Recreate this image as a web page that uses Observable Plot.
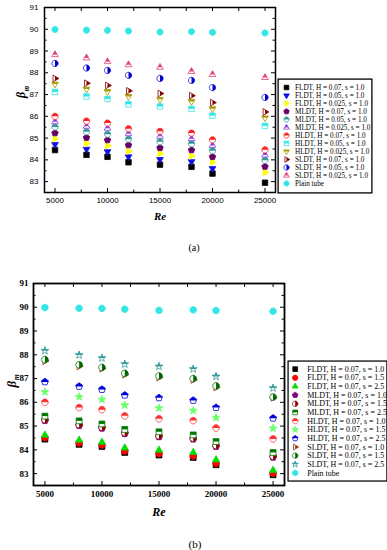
<!DOCTYPE html>
<html><head><meta charset="utf-8">
<script src="https://cdn.jsdelivr.net/npm/d3@7"></script>
<script src="https://cdn.jsdelivr.net/npm/@observablehq/plot@0.6"></script>
<style>
html,body{margin:0;padding:0;background:#fff}
body{width:387px;height:550px;overflow:hidden;position:relative}
.abs{position:absolute}
.abs svg{display:block;overflow:visible}
</style></head><body>
<div id="pa" class="abs" style="left:0;top:0"></div>
<div id="pb" class="abs" style="left:0;top:260px"></div>
<div id="la" class="abs" style="left:277px;top:78px"></div>
<div id="lb" class="abs" style="left:287px;top:360px"></div>
<script>
// ---------- data ----------
const Re = [5000, 8000, 10000, 12000, 15000, 18000, 20000, 25000];

// panel (a): effect of H at s = 1.0
const namesA = [
  "FLDT, H = 0.07, s = 1.0", "FLDT, H = 0.05, s = 1.0", "FLDT, H = 0.025, s = 1.0",
  "MLDT, H = 0.07, s = 1.0", "MLDT, H = 0.05, s = 1.0", "MLDT, H = 0.025, s = 1.0",
  "HLDT, H = 0.07, s = 1.0", "HLDT, H = 0.05, s = 1.0", "HLDT, H = 0.025, s = 1.0",
  "SLDT, H = 0.07, s = 1.0", "SLDT, H = 0.05, s = 1.0", "SLDT, H = 0.025, s = 1.0",
  "Plain tube"];
const FLDT_H007 = [84.45, 84.23, 84.14, 83.89, 83.78, 83.68, 83.37, 82.95];
const FLDT_H005 = [84.71, 84.49, 84.38, 84.14, 84.02, 83.92, 83.60, null];
const FLDT_H0025 = [84.97, 84.75, 84.65, 84.40, 84.29, 84.18, 83.89, 83.42];
const MLDT_H007 = [85.23, 85.02, 84.91, 84.68, 84.55, 84.45, 84.14, 83.69];
const MLDT_H005 = [85.51, 85.29, 85.18, 84.95, 84.83, 84.74, 84.42, 83.98];
const MLDT_H0025 = [85.75, 85.54, 85.45, 85.20, 85.08, 84.97, 84.66, 84.22];
const HLDT_H007 = [86.00, 85.78, 85.69, 85.43, 85.31, 85.23, 84.92, 84.46];
const HLDT_H005 = [87.12, 86.91, 86.80, 86.55, 86.45, 86.34, 86.03, 85.56];
const HLDT_H0025 = [87.48, 87.25, 87.14, 86.91, 86.78, 86.68, 86.35, 85.93];
const SLDT_H007 = [87.74, 87.52, 87.42, 87.17, 87.05, 86.95, 86.63, 86.20];
const SLDT_H005 = [88.43, 88.22, 88.11, 87.88, 87.74, 87.65, 87.32, 86.87];
const SLDT_H0025 = [88.83, 88.68, 88.51, 88.37, 88.25, 88.06, 87.92, 87.78];
const PlainTube = [89.99, 89.96, 89.95, 89.92, 89.87, 89.89, 89.86, 89.83];
const seriesA = [FLDT_H007, FLDT_H005, FLDT_H0025, MLDT_H007, MLDT_H005, MLDT_H0025,
  HLDT_H007, HLDT_H005, HLDT_H0025, SLDT_H007, SLDT_H005, SLDT_H0025, PlainTube];
const colorsA = ["#000000", "#1010e0", "#ffff00", "#660066", "#339999", "#8a3ee0",
  "#ff2020", "#33e6e6", "#a89a00", "#800000", "#0000cc", "#e0407f", "#33e6e6"];
const kindsA = ["square", "triDown", "triRight", "pentagon", "circle", "triUp",
  "circle", "square", "triDown", "triRight", "circle", "triUp", "circle"];
const halvesA = [null, null, null, null, "top", "top", "top", "top", "top", "right", "right", "top", null];

// panel (b): effect of s at H = 0.07
const namesB = [
  "FLDT, H = 0.07, s = 1.0", "FLDT, H = 0.07, s = 1.5", "FLDT, H = 0.07, s = 2.5",
  "MLDT, H = 0.07, s = 1.0", "MLDT, H = 0.07, s = 1.5", "MLDT, H = 0.07, s = 2.5",
  "HLDT, H = 0.07, s = 1.0", "HLDT, H = 0.07, s = 1.5", "HLDT, H = 0.07, s = 2.5",
  "SLDT, H = 0.07, s = 1.0", "SLDT, H = 0.07, s = 1.5", "SLDT, H = 0.07, s = 2.5",
  "Plain tube"];
const FLDT_s15 = [84.51, 84.29, 84.20, 83.95, 83.84, 83.74, 83.43, 83.01];
const FLDT_s25 = [84.62, 84.41, 84.32, 84.08, 83.99, 83.89, 83.58, 83.14];
const MLDT_s15 = [85.27, 85.06, 84.95, 84.72, 84.59, 84.49, 84.18, 83.73];
const MLDT_s25 = [85.42, 85.22, 85.09, 84.86, 84.76, 84.63, 84.35, 83.89];
const HLDT_s15 = [86.44, 86.23, 86.12, 85.88, 85.76, 85.65, 85.36, 84.91];
const HLDT_s25 = [86.86, 86.67, 86.54, 86.30, 86.19, 86.08, 85.78, 85.33];
const SLDT_s15 = [87.80, 87.58, 87.47, 87.22, 87.11, 87.00, 86.69, 86.22];
const SLDT_s25 = [88.17, 87.99, 87.86, 87.61, 87.51, 87.40, 87.09, 86.60];
const seriesB = [FLDT_H007, FLDT_s15, FLDT_s25, MLDT_H007, MLDT_s15, MLDT_s25,
  HLDT_H007, HLDT_s15, HLDT_s25, SLDT_H007, SLDT_s15, SLDT_s25, PlainTube];
const colorsB = ["#000000", "#ff0000", "#00dd00", "#800080", "#8b0000", "#007700",
  "#ff3030", "#66ff66", "#0000dd", "#993300", "#006600", "#339999", "#33e6e6"];
const kindsB = ["square", "circle", "triUp", "pentagon", "circle", "square",
  "circle", "star", "pentagon", "triRight", "circle", "star", "circle"];
const halvesB = [null, null, null, null, "right", "top", "top", null, "top", "right", "right", "top", null];

// axis ticks
const xMajor = [5000, 10000, 15000, 20000, 25000];
const xMinor = [7500, 12500, 17500, 22500];
const yMajor = [83, 84, 85, 86, 87, 88, 89, 90, 91];
const yMinor = [82.5, 83.5, 84.5, 85.5, 86.5, 87.5, 88.5, 89.5, 90.5];

// ---------- symbols ----------
function poly(kind, r) {
  const pts = [];
  const reg = (n, rot, rr) => { for (let i = 0; i < n; i++) { const a = rot + 2 * Math.PI * i / n; pts.push([rr * Math.cos(a), rr * Math.sin(a)]); } };
  switch (kind) {
    case "square": { const s = r * 0.88; pts.push([-s, -s], [s, -s], [s, s], [-s, s]); break; }
    case "circle": reg(28, 0, r); break;
    case "triUp": reg(3, -Math.PI / 2, r * 1.25); break;
    case "triDown": reg(3, Math.PI / 2, r * 1.25); break;
    case "triRight": reg(3, 0, r * 1.25); break;
    case "triLeft": reg(3, Math.PI, r * 1.25); break;
    case "pentagon": reg(5, -Math.PI / 2, r * 1.1); break;
    case "star": for (let i = 0; i < 10; i++) { const a = -Math.PI / 2 + Math.PI * i / 5; const rr = i % 2 ? r * 0.5 : r * 1.25; pts.push([rr * Math.cos(a), rr * Math.sin(a)]); } break;
  }
  return pts;
}
function clipHalf(pts, side) {
  const f = {top: p => -p[1], bottom: p => p[1], left: p => -p[0], right: p => p[0]}[side];
  const out = [];
  for (let i = 0; i < pts.length; i++) {
    const a = pts[i], b = pts[(i + 1) % pts.length];
    const fa = f(a), fb = f(b);
    if (fa >= 0) out.push(a);
    if ((fa >= 0) !== (fb >= 0)) { const t = fa / (fa - fb); out.push([a[0] + t * (b[0] - a[0]), a[1] + t * (b[1] - a[1])]); }
  }
  return out;
}
function makeSymbol(kind, half) {
  return {draw(ctx, size) {
    const r = Math.sqrt(size / Math.PI);
    let pts = poly(kind, r);
    if (half) pts = clipHalf(pts, half);
    ctx.moveTo(pts[0][0], pts[0][1]);
    for (let i = 1; i < pts.length; i++) ctx.lineTo(pts[i][0], pts[i][1]);
    ctx.closePath();
  }};
}

function seriesMarks(names, series, colors, kinds, halves, r) {
  const marks = [];
  names.forEach((name, i) => {
    const data = Re.map((x, j) => ({x, y: series[i][j]})).filter(d => d.y != null);
    const full = !halves[i];
    marks.push(Plot.dot(data, {x: "x", y: "y", r, symbol: makeSymbol(kinds[i]), fill: full ? colors[i] : "white", stroke: colors[i], strokeWidth: 0.8}));
    if (!full) marks.push(Plot.dot(data, {x: "x", y: "y", r, symbol: makeSymbol(kinds[i], halves[i]), fill: colors[i], stroke: "none"}));
  });
  return marks;
}

// inward ticks drawn as short tick marks inside the frame; o.iw / o.ih = inner frame size
function axisMarks(o) {
  const M = 4, m = 2.5, sw = 1;
  return [
    Plot.tickX(xMajor, {x: d => d, insetTop: o.ih - M, stroke: "black", strokeWidth: sw}),
    Plot.tickX(xMinor, {x: d => d, insetTop: o.ih - m, stroke: "black", strokeWidth: sw}),
    Plot.tickX(xMajor.concat(xMinor), {x: d => d, insetBottom: o.ih - M, stroke: "black", strokeWidth: sw}),
    Plot.tickY(yMajor, {y: d => d, insetRight: o.iw - M, stroke: "black", strokeWidth: sw}),
    Plot.tickY(yMinor, {y: d => d, insetRight: o.iw - m, stroke: "black", strokeWidth: sw}),
    Plot.tickY(yMajor, {y: d => d, insetLeft: o.iw - M, stroke: "black", strokeWidth: sw}),
    Plot.tickY(yMinor, {y: d => d, insetLeft: o.iw - m, stroke: "black", strokeWidth: sw}),
    Plot.text(xMajor, {x: d => d, text: d => String(d), frameAnchor: "bottom", dy: o.xPad, lineAnchor: "top", fontSize: o.fs, fontWeight: o.fw}),
    Plot.text(yMajor, {y: d => d, text: d => String(d), frameAnchor: "left", dx: -o.yPad, textAnchor: "end", lineAnchor: "middle", fontSize: o.fs, fontWeight: o.fw}),
    Plot.frame({stroke: "black", strokeWidth: o.frameW})
  ];
}

function labelMarks(o) {
  return [
    Plot.text(["Re"], {text: d => d, frameAnchor: "bottom", dy: o.reDy, lineAnchor: "middle", fontFamily: "Liberation Serif", fontStyle: "italic", fontWeight: "bold", fontSize: o.reFs}),
    Plot.text([o.tag], {text: d => d, frameAnchor: "bottom", dx: o.tagDx, dy: o.tagDy, lineAnchor: "middle", fontFamily: "Liberation Serif", fontSize: o.tagFs}),
    Plot.text(["β"], {text: d => d, frameAnchor: "left", dx: o.betaDx, dy: o.betaDy, rotate: -90, lineAnchor: "middle", fontFamily: "Liberation Serif", fontStyle: "italic", fontWeight: "bold", fontSize: o.betaFs}),
    Plot.text(["m"], {text: d => d, frameAnchor: "left", dx: o.betaDx + o.betaFs * 0.4, dy: o.betaDy - o.betaFs * 0.55, rotate: -90, lineAnchor: "middle", fontFamily: "Liberation Serif", fontStyle: "italic", fontWeight: "bold", fontSize: o.betaFs * 0.6})
  ];
}

// ---------- panel (a) ----------
const A = {w: 387, h: 260, ml: 44, mr: 112, mt: 7, mb: 68};
const plotA = Plot.plot({
  width: A.w, height: A.h,
  marginLeft: A.ml, marginRight: A.mr, marginTop: A.mt, marginBottom: A.mb,
  x: {domain: [4000, 26000], axis: null},
  y: {domain: [82.5, 91], axis: null},
  style: {fontFamily: "Liberation Sans, Arial, sans-serif", color: "#000", background: "transparent", overflow: "visible"},
  marks: [
    ...axisMarks({iw: A.w - A.ml - A.mr, ih: A.h - A.mt - A.mb, xPad: 5, yPad: 6, fs: 8, fw: "normal", frameW: 1.5}),
    ...seriesMarks(namesA, seriesA, colorsA, kindsA, halvesA, 3.1),
    ...labelMarks({reDy: 24, reFs: 11, tag: "(a)", tagDx: 34, tagDy: 55, tagFs: 10, betaDx: -23, betaDy: -2, betaFs: 12})
  ]
});
document.getElementById("pa").append(plotA);

// ---------- panel (b) ----------
const B = {w: 387, h: 290, ml: 33, mr: 103, mt: 23, mb: 65};
const plotB = Plot.plot({
  width: B.w, height: B.h,
  marginLeft: B.ml, marginRight: B.mr, marginTop: B.mt, marginBottom: B.mb,
  x: {domain: [4000, 26000], axis: null},
  y: {domain: [82.5, 91], axis: null},
  style: {fontFamily: "Liberation Serif, Times New Roman, serif", color: "#000", background: "transparent", overflow: "visible"},
  marks: [
    ...axisMarks({iw: B.w - B.ml - B.mr, ih: B.h - B.mt - B.mb, xPad: 5, yPad: 5, fs: 9, fw: "bold", frameW: 1.8}),
    ...seriesMarks(namesB, seriesB, colorsB, kindsB, halvesB, 3.3),
    ...labelMarks({reDy: 27, reFs: 12, tag: "(b)", tagDx: 36, tagDy: 59, tagFs: 11, betaDx: -22, betaDy: 3, betaFs: 13})
  ]
});
document.getElementById("pb").append(plotB);

// ---------- legends ----------
function legendPlot(names, colors, kinds, halves, o) {
  const marks = [Plot.frame({stroke: "black", strokeWidth: 1.3, fill: "white", inset: 0.6})];
  names.forEach((n, i) => {
    const full = !halves[i];
    marks.push(Plot.dot([n], {y: d => d, frameAnchor: "left", dx: o.symX, r: o.r, symbol: makeSymbol(kinds[i]), fill: full ? colors[i] : "white", stroke: colors[i], strokeWidth: 0.8}));
    if (!full) marks.push(Plot.dot([n], {y: d => d, frameAnchor: "left", dx: o.symX, r: o.r, symbol: makeSymbol(kinds[i], halves[i]), fill: colors[i], stroke: "none"}));
  });
  marks.push(Plot.text(names, {y: d => d, text: d => d, frameAnchor: "left", dx: o.textX, textAnchor: "start", lineAnchor: "middle", fontSize: o.fs}));
  return Plot.plot({
    width: o.w, height: o.h, margin: 0,
    y: {type: "point", domain: names, padding: 0, inset: o.inset, axis: null},
    style: {fontFamily: "Liberation Serif, Times New Roman, serif", color: "#000", background: "transparent", overflow: "visible"},
    marks
  });
}
document.getElementById("la").append(legendPlot(namesA, colorsA, kindsA, halvesA, {w: 95, h: 115, inset: 4.7, symX: 9, textX: 17.5, r: 2.6, fs: 7.2}));
document.getElementById("lb").append(legendPlot(namesB, colorsB, kindsB, halvesB, {w: 104, h: 126, inset: 5.8, symX: 8, textX: 20.5, r: 2.8, fs: 8.3}));
</script>
</body></html>
